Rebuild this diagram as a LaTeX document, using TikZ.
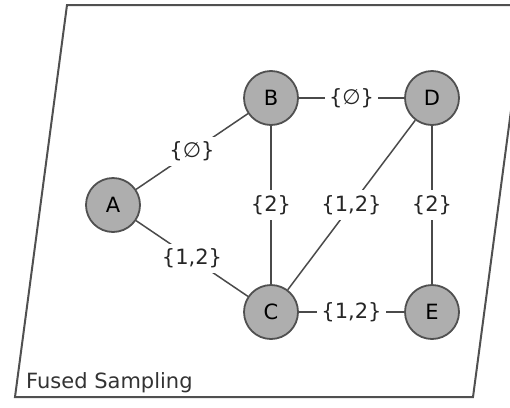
\documentclass[tikz,border=0pt]{standalone}
\usepackage{fontspec}
\setmainfont{DejaVu Sans}
\usetikzlibrary{positioning}

\definecolor{vtxfill}{HTML}{AEAEAE}
\definecolor{vtxline}{HTML}{505050}
\definecolor{edgeline}{HTML}{4A4A4A}

\begin{document}
\begin{tikzpicture}[
    x=1pt, y=-1pt,
    vtx/.style={circle, draw=vtxline, line width=1.8pt, fill=vtxfill, minimum size=54pt, inner sep=0pt, font=\fontsize{21}{24}\selectfont},
    lbl/.style={fill=white, inner xsep=4pt, inner ysep=5pt, font=\fontsize{21}{24}\selectfont, text=black!85},
    link/.style={draw=edgeline, line width=1.5pt}
]

% Frame
\useasboundingbox (0,0) rectangle (510,407);
\clip (0,0) rectangle (510,407);
\draw[vtxline, line width=2pt] (67,5) -- (525,5) -- (473,397) -- (15,397) -- cycle;
\node[anchor=base west, font=\fontsize{21}{24}\selectfont, text=black!80, inner sep=0pt] (title) at (26,388) {Fused Sampling};

% Vertices
\node[vtx] (A) at (113,205) {A};
\node[vtx] (B) at (271,98) {B};
\node[vtx] (D) at (432,98) {D};
\node[vtx] (C) at (271,312) {C};
\node[vtx] (E) at (432,312) {E};

% Edges
\path[link] (A) -- node[lbl] {\{∅\}} (B);
\path[link] (A) -- node[lbl] {\{1,2\}} (C);
\path[link] (B) -- node[lbl] {\{∅\}} (D);
\path[link] (B) -- node[lbl] {\{2\}} (C);
\path[link] (D) -- node[lbl] {\{1,2\}} (C);
\path[link] (D) -- node[lbl] {\{2\}} (E);
\path[link] (C) -- node[lbl] {\{1,2\}} (E);

\end{tikzpicture}
\end{document}
